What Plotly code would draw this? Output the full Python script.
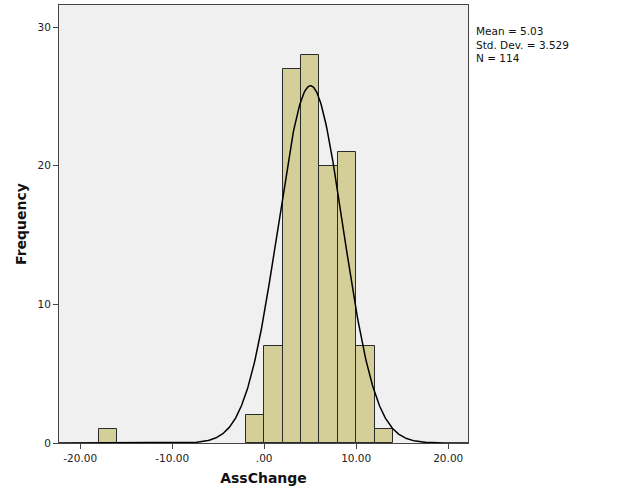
import numpy as np
import plotly.graph_objects as go

# Histogram data (bin width 2)
bin_left = [-18, -2, 0, 2, 4, 6, 8, 10, 12]
counts = [1, 2, 7, 27, 28, 20, 21, 7, 1]
bin_width = 2

mean_val = 5.03
sd_val = 3.529
n_val = 114

x_ticks = [-20, -10, 0, 10, 20]
x_tick_labels = ["-20.00", "-10.00", ".00", "10.00", "20.00"]
y_ticks = [0, 10, 20, 30]

x_range = [-22.3, 22.15]
y_range = [0, 31.6]

centers = [b + bin_width / 2 for b in bin_left]

xs = np.linspace(x_range[0], x_range[1], 600)
ys = n_val * bin_width / (sd_val * np.sqrt(2 * np.pi)) * np.exp(-0.5 * ((xs - mean_val) / sd_val) ** 2)

fig = go.Figure()
fig.add_trace(go.Bar(
    x=centers, y=counts, width=[bin_width] * len(centers),
    marker=dict(color="#d4cf98", line=dict(color="#2a2a2a", width=1)),
    showlegend=False, hoverinfo="x+y",
))
fig.add_trace(go.Scatter(
    x=xs, y=ys, mode="lines", line=dict(color="black", width=1.5),
    showlegend=False, hoverinfo="skip",
))

fig.update_layout(
    width=625, height=500,
    margin=dict(l=59, r=157, t=5, b=57),
    paper_bgcolor="white",
    plot_bgcolor="#f0f0f0",
    bargap=0,
    font=dict(family="DejaVu Sans", color="#222222"),
    xaxis=dict(
        range=x_range, tickvals=x_ticks, ticktext=x_tick_labels,
        ticks="outside", ticklen=5, tickcolor="#444444", tickwidth=1,
        showgrid=False, zeroline=False,
        showline=True, linecolor="#444444", linewidth=1, mirror=True,
        tickfont=dict(size=10.5, color="#222222"),
        title=dict(text="<b>AssChange</b>", font=dict(size=14, color="#111111"), standoff=10),
    ),
    yaxis=dict(
        range=y_range, tickvals=y_ticks,
        ticks="outside", ticklen=5, tickcolor="#444444", tickwidth=1,
        showgrid=False, zeroline=False,
        showline=True, linecolor="#444444", linewidth=1, mirror=True,
        tickfont=dict(size=10.5, color="#222222"),
        title=dict(text="<b>Frequency</b>", font=dict(size=14, color="#111111"), standoff=7),
    ),
)

lines = [f"Mean = {mean_val:.2f}", f"Std. Dev. = {sd_val:.3f}", f"N = {n_val}"]
fig.add_annotation(
    text="<br>".join(lines), xref="paper", yref="paper",
    x=1.0, y=1.0, xanchor="left", yanchor="top", align="left",
    xshift=6, yshift=-18,
    showarrow=False, font=dict(size=10.5, color="#111111"),
)

fig.write_html("out.html", config={"displayModeBar": False},
               post_script="document.body.style.margin='0';")
